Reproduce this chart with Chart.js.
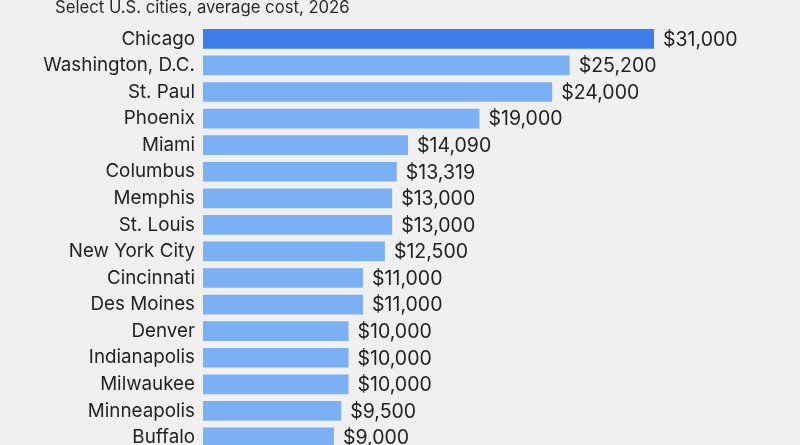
<!DOCTYPE html>
<html>
<head>
<meta charset="utf-8">
<script src="https://cdn.jsdelivr.net/npm/chart.js@4.4.0/dist/chart.umd.min.js"></script>
<style>
  html, body { margin: 0; padding: 0; background: #f0f0f0; overflow: hidden; }
  #wrap { position: relative; width: 800px; height: 470px; }
  #sub { position: absolute; left: 55px; top: -3px; font: 16.7px Inter, "Noto Sans", sans-serif; color: #2a2a2a; white-space: nowrap; }
</style>
</head>
<body>
<div id="wrap">
  <div id="sub">Select U.S. cities, average cost, 2026</div>
  <canvas id="chart" width="800" height="470"></canvas>
</div>
<script>
// ---------------- DATA ----------------
const cities = [
  "Chicago", "Washington, D.C.", "St. Paul", "Phoenix", "Miami", "Columbus",
  "Memphis", "St. Louis", "New York City", "Cincinnati", "Des Moines",
  "Denver", "Indianapolis", "Milwaukee", "Minneapolis", "Buffalo"
];
const costs = [
  31000, 25200, 24000, 19000, 14090, 13319,
  13000, 13000, 12500, 11000, 11000,
  10000, 10000, 10000, 9500, 9000
];
const highlight = "Chicago";

const DARK = "#3d7cea";
const LIGHT = "#7bb0f5";
const FONT = "Inter, 'Noto Sans', sans-serif";

// value labels at the bar ends
const valueLabels = {
  id: "valueLabels",
  afterDatasetsDraw(chart) {
    const ctx = chart.ctx;
    const meta = chart.getDatasetMeta(0);
    ctx.save();
    ctx.font = "19.5px " + FONT;
    ctx.fillStyle = "#222";
    ctx.textAlign = "left";
    ctx.textBaseline = "middle";
    meta.data.forEach((bar, i) => {
      ctx.fillText("$" + costs[i].toLocaleString("en-US"), bar.x + 9, bar.y + 1);
    });
    ctx.restore();
  }
};

new Chart(document.getElementById("chart"), {
  type: "bar",
  data: {
    labels: cities,
    datasets: [{
      data: costs,
      backgroundColor: cities.map(c => c === highlight ? DARK : LIGHT),
      categoryPercentage: 1,
      barPercentage: 0.74
    }]
  },
  options: {
    indexAxis: "y",
    responsive: false,
    animation: false,
    layout: { padding: { top: 25.6, bottom: 16.7, left: 0, right: 15 } },
    plugins: { legend: { display: false }, tooltip: { enabled: false } },
    scales: {
      x: { display: false, min: 0, max: 40000 },
      y: {
        grid: { display: false, drawTicks: false },
        border: { display: false },
        ticks: { color: "#222", font: { family: FONT, size: 18.8 }, padding: 8 },
        afterFit(scale) { scale.width = 203; }
      }
    }
  },
  plugins: [valueLabels]
});
</script>
</body>
</html>
